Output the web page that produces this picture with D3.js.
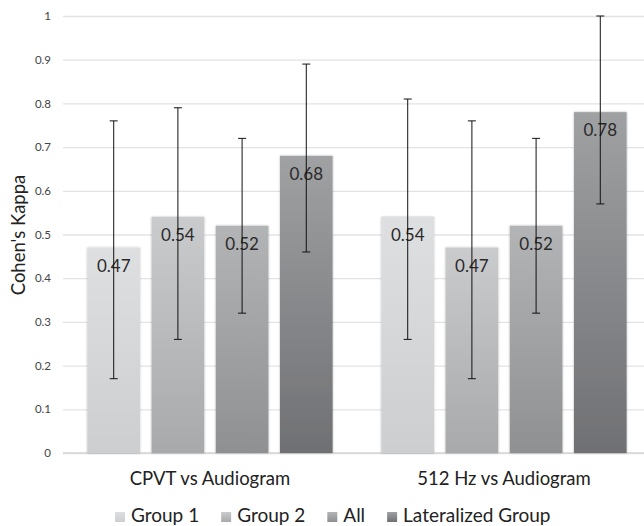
<!DOCTYPE html>
<html>
<head>
<meta charset="utf-8">
<script src="https://cdn.jsdelivr.net/npm/d3@7"></script>
<style>
  body { margin: 0; background: #fff; }
  text { font-family: Lato, "Open Sans", sans-serif; }
</style>
</head>
<body>
<svg id="chart"></svg>
<script>
// comparisons on the x axis
const categories = ["CPVT vs Audiogram", "512 Hz vs Audiogram"];
const groups = ["Group 1", "Group 2", "All", "Lateralized Group"];

// kappa per group, one entry per category
const group1 = [0.47, 0.54];
const group2 = [0.54, 0.47];
const allGroup = [0.52, 0.52];
const lateralized = [0.68, 0.78];

// confidence intervals
const lowGroup1 = [0.17, 0.26], highGroup1 = [0.76, 0.81];
const lowGroup2 = [0.26, 0.17], highGroup2 = [0.79, 0.76];
const lowAll = [0.32, 0.32], highAll = [0.72, 0.72];
const lowLat = [0.46, 0.57], highLat = [0.89, 1.0];

const yTicks = [0, 0.1, 0.2, 0.3, 0.4, 0.5, 0.6, 0.7, 0.8, 0.9, 1];

const seriesValues = [group1, group2, allGroup, lateralized];
const seriesLow = [lowGroup1, lowGroup2, lowAll, lowLat];
const seriesHigh = [highGroup1, highGroup2, highAll, highLat];

// top / bottom colours of each bar gradient
const gradColors = [
  ["#dedfe1", "#cdced0"],
  ["#cacbcd", "#a8a9ab"],
  ["#b3b4b6", "#8f9092"],
  ["#a0a1a3", "#6f7073"]
];

const width = 644, height = 526;
const margin = { top: 16, right: -7, bottom: 73, left: 63 };

const svg = d3.select("#chart").attr("width", width).attr("height", height);

const rows = [];
categories.forEach((c, ci) => {
  groups.forEach((g, gi) => {
    rows.push({
      cat: c, group: g, gi: gi,
      value: seriesValues[gi][ci],
      low: seriesLow[gi][ci],
      high: seriesHigh[gi][ci]
    });
  });
});

const x0 = d3.scaleBand().domain(categories)
  .range([margin.left, width - margin.right]).paddingInner(0).paddingOuter(0);
const x1 = d3.scaleBand().domain(groups)
  .range([0, x0.bandwidth()]).paddingInner(0.18).paddingOuter(0.38);
const y = d3.scaleLinear().domain([0, 1]).range([height - margin.bottom, margin.top]);

const defs = svg.append("defs");
gradColors.forEach((gc, i) => {
  const lg = defs.append("linearGradient").attr("id", "grad" + i)
    .attr("x1", 0).attr("y1", 0).attr("x2", 0).attr("y2", 1);
  lg.append("stop").attr("offset", "0%").attr("stop-color", gc[0]);
  lg.append("stop").attr("offset", "100%").attr("stop-color", gc[1]);
});
const shadow = defs.append("filter").attr("id", "shadow")
  .attr("x", "-20%").attr("y", "-5%").attr("width", "140%").attr("height", "110%");
shadow.append("feGaussianBlur").attr("in", "SourceAlpha").attr("stdDeviation", 1.2).attr("result", "b");
shadow.append("feComponentTransfer").attr("in", "b").attr("result", "s")
  .append("feFuncA").attr("type", "linear").attr("slope", 0.3);
const merge = shadow.append("feMerge");
merge.append("feMergeNode").attr("in", "s");
merge.append("feMergeNode").attr("in", "SourceGraphic");

// gridlines + tick labels
const yAxis = svg.append("g")
  .attr("transform", `translate(${margin.left},0)`)
  .call(d3.axisLeft(y).tickValues(yTicks).tickFormat(d3.format("~g"))
    .tickSize(-(width - margin.left)).tickPadding(12));
yAxis.select(".domain").remove();
yAxis.selectAll(".tick line").attr("stroke", "#e3e3e3").attr("stroke-width", 1.3);
yAxis.selectAll(".tick text").attr("fill", "#444").style("font-size", "11.5px");

// baseline
svg.append("line")
  .attr("x1", margin.left).attr("x2", width)
  .attr("y1", y(0)).attr("y2", y(0))
  .attr("stroke", "#d6d6d6").attr("stroke-width", 1.5);

const bars = svg.append("g").selectAll("g.bar").data(rows).join("g")
  .attr("class", "bar")
  .attr("transform", d => `translate(${x0(d.cat) + x1(d.group)},0)`);

bars.append("rect")
  .attr("x", 0).attr("width", x1.bandwidth())
  .attr("y", d => y(d.value)).attr("height", d => y(0) - y(d.value))
  .attr("fill", d => `url(#grad${d.gi})`)
  .attr("filter", "url(#shadow)");

bars.append("text")
  .attr("x", x1.bandwidth() / 2)
  .attr("y", d => y(d.value) + 24)
  .attr("text-anchor", "middle")
  .attr("fill", "#2a2a2a")
  .style("font-size", "17px")
  .text(d => d.value.toFixed(2));

// error bars
const cap = 4;
bars.append("line")
  .attr("x1", x1.bandwidth() / 2).attr("x2", x1.bandwidth() / 2)
  .attr("y1", d => y(d.low)).attr("y2", d => y(d.high))
  .attr("stroke", "#111").attr("stroke-width", 1);
bars.append("line")
  .attr("x1", x1.bandwidth() / 2 - cap).attr("x2", x1.bandwidth() / 2 + cap)
  .attr("y1", d => y(d.low)).attr("y2", d => y(d.low))
  .attr("stroke", "#111").attr("stroke-width", 1);
bars.append("line")
  .attr("x1", x1.bandwidth() / 2 - cap).attr("x2", x1.bandwidth() / 2 + cap)
  .attr("y1", d => y(d.high)).attr("y2", d => y(d.high))
  .attr("stroke", "#111").attr("stroke-width", 1);

// category labels
svg.append("g").selectAll("text").data(categories).join("text")
  .attr("x", d => x0(d) + x0.bandwidth() / 2)
  .attr("y", 485)
  .attr("text-anchor", "middle")
  .attr("fill", "#222")
  .style("font-size", "18.5px")
  .text(d => d);

// y axis title
svg.append("text")
  .attr("transform", `translate(25,235) rotate(-90)`)
  .attr("text-anchor", "middle")
  .attr("fill", "#222")
  .style("font-size", "18.5px")
  .text("Cohen's Kappa");

// legend
const legend = svg.append("g").attr("transform", "translate(0,522)");
let lx = 115;
groups.forEach((g, i) => {
  const item = legend.append("g").attr("transform", `translate(${lx},0)`);
  item.append("rect").attr("x", 0).attr("y", -10).attr("width", 10).attr("height", 10)
    .attr("fill", `url(#grad${i})`);
  const t = item.append("text").attr("x", 16).attr("y", 0)
    .attr("fill", "#222").style("font-size", "19px").text(g);
  lx += 16 + t.node().getComputedTextLength() + 22;
});
</script>
</body>
</html>
